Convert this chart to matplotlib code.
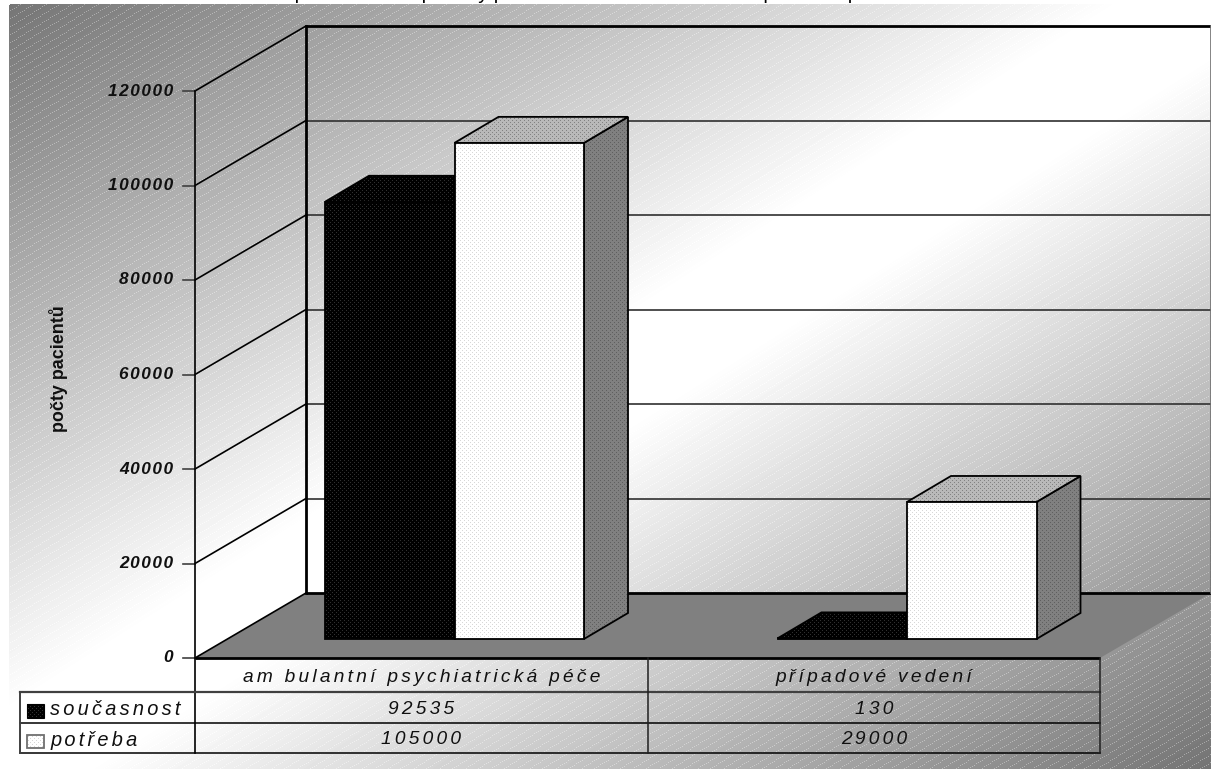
import numpy as np
import matplotlib
matplotlib.use('Agg')
import matplotlib.pyplot as plt
from matplotlib.patches import Polygon

plt.rcParams['font.family'] = ['Liberation Sans', 'DejaVu Sans']

# data
categories = ['am bulantní psychiatrická péče', 'případové vedení']
series_names = ['současnost', 'potřeba']
soucasnost = [92535, 130]
potreba = [105000, 29000]
y_ticks = [0, 20000, 40000, 60000, 80000, 100000, 120000]
y_label = 'počty pacientů'
# only the descenders of the title are left in the picture, the words are a guess
title = 'Současná péče a reálné potřeby pacientů s chronickou nemocí potřebná péče'

W, H = 1211, 769

# layout of the 3d box, in pixels
x_front, x_right = 195, 1100
y_zero, y_top = 658, 91
box_dx, box_dy = 111, -65
bar_dx, bar_dy = 44, -26
bar_w = 129.5
cat_w = (x_right - x_front) / 2
bar_offset = 130
bar_base = 639
table_left = 20
table_rows = [692, 723, 753]
scale = (y_zero - y_top) / y_ticks[-1]
HAIR = '\u200a'

face_z = [3.0]


def spaced(s, sep):
    return sep.join(s)


def background():
    yy, xx = np.mgrid[0:H, 0:W]
    u = np.abs(xx / W + yy / H - 1)
    g = 255 - 150 * np.clip(u - 0.07, 0, None)
    stripes = ((yy + (0.62 * xx).astype(int)) % 8 == 0) & (xx % 2 == 0)
    g = np.where(stripes, np.minimum(g + 48 * u, 255), g)
    g[:4, :] = 255
    g[:, :9] = 255
    g[(xx + yy) < 14] = 255
    return g


def dotted(ax, pts, base, dot, edge='black', lw=1.3):
    pts = np.array(pts)
    x0, y0 = np.floor(pts.min(axis=0)).astype(int)
    x1, y1 = np.ceil(pts.max(axis=0)).astype(int) + 1
    yy, xx = np.mgrid[y0:y1, x0:x1]
    mask = ((xx % 4 == 0) & (yy % 4 == 0)) | ((xx % 4 == 2) & (yy % 4 == 2))
    # each face sits on top of the one before, outline included
    face_z[0] += 0.01
    img = ax.imshow(np.where(mask, dot, base), cmap='gray', vmin=0, vmax=255,
                    extent=(x0, x1, y1, y0), interpolation='nearest', aspect='auto', zorder=face_z[0])
    face_z[0] += 0.01
    patch = Polygon(pts, closed=True, fill=False, edgecolor=edge, linewidth=lw, zorder=face_z[0],
                    joinstyle='miter')
    ax.add_patch(patch)
    img.set_clip_path(patch)


def draw_bar(ax, cat, ser, value, front, front_dot, top, top_dot, side, side_dot):
    x0 = x_front + cat * cat_w + bar_offset + ser * bar_w
    x1 = x0 + bar_w
    yb = bar_base
    yt = bar_base - value * scale
    dotted(ax, [(x1, yb), (x1 + bar_dx, yb + bar_dy), (x1 + bar_dx, yt + bar_dy), (x1, yt)], side, side_dot)
    dotted(ax, [(x0, yt), (x0 + bar_dx, yt + bar_dy), (x1 + bar_dx, yt + bar_dy), (x1, yt)], top, top_dot)
    dotted(ax, [(x0, yb), (x1, yb), (x1, yt), (x0, yt)], front, front_dot)


fig, ax = plt.subplots(figsize=(W / 100, H / 100), dpi=100)
fig.subplots_adjust(left=0, right=1, top=1, bottom=0)
ax.imshow(background(), cmap='gray', vmin=0, vmax=255, extent=(0, W, H, 0),
          interpolation='nearest', aspect='auto', zorder=0)
ax.set_xlim(0, W)
ax.set_ylim(H, 0)
ax.axis('off')

ax.text(546, -1, title, ha='center', va='baseline', fontsize=14.4, color='black', clip_on=False)

# floor
ax.add_patch(Polygon([(x_front, y_zero), (x_front + box_dx, y_zero + box_dy),
                      (x_right + box_dx, y_zero + box_dy), (x_right, y_zero)],
                     closed=True, facecolor='#808080', edgecolor='none', zorder=1))

# walls and gridlines
for v in y_ticks:
    y = y_zero - v * scale
    lw = 2 if v in (0, y_ticks[-1]) else 1.2
    c = 'black' if v in (0, y_ticks[-1]) else '#303030'
    ax.plot([x_front + box_dx, x_right + box_dx], [y + box_dy, y + box_dy], color=c, lw=lw, zorder=2,
            solid_capstyle='butt')
    ax.plot([x_front, x_front + box_dx], [y, y + box_dy], color='black', lw=1.2, zorder=2)
    ax.plot([x_front - 12, x_front], [y, y], color='#404040', lw=1.2, zorder=2)
    ax.text(x_front - 22, y, spaced(str(v), HAIR), ha='right', va='center', fontsize=12.4,
            fontstyle='italic', fontweight='bold', color='#101010', zorder=5)
ax.plot([x_front + box_dx] * 2, [y_top + box_dy, y_zero + box_dy], color='black', lw=2, zorder=2)
ax.plot([x_front] * 2, [y_top, table_rows[-1]], color='black', lw=1.2, zorder=2)
ax.plot([x_right + box_dx - 0.5] * 2, [y_top + box_dy, y_zero + box_dy], color='#707070', lw=1.2, zorder=2)
ax.plot([x_front, x_right], [y_zero, y_zero], color='black', lw=2, zorder=5, solid_capstyle='butt')

ax.text(58, 369, y_label, rotation=90, ha='center', va='center', fontsize=12.9, fontweight='bold',
        color='#101010', zorder=5)

# bars
for i in range(len(categories)):
    draw_bar(ax, i, 0, soucasnost[i], 0, 48, 0, 48, 0, 48)
    draw_bar(ax, i, 1, potreba[i], 255, 215, 185, 130, 128, 95)

# data table
ax.plot([table_left, x_right], [table_rows[0]] * 2, color='#404040', lw=1.6, zorder=5)
for y in table_rows[1:]:
    ax.plot([table_left, x_right], [y, y], color='black', lw=1.1, zorder=5)
ax.plot([table_left] * 2, [table_rows[0], table_rows[-1]], color='#404040', lw=1.4, zorder=5)
for x in (x_front + cat_w, x_right):
    ax.plot([x, x], [y_zero, table_rows[-1]], color='#202020', lw=1.1, zorder=5)

cell = dict(fontsize=13.8, fontstyle='italic', color='#101010', zorder=6, va='center')
sep = HAIR * 2
for i, cat in enumerate(categories):
    xc = x_front + (i + 0.5) * cat_w
    ax.text(xc, (y_zero + table_rows[0]) / 2 + 2, spaced(cat, sep), ha='center', **cell)
    ax.text(xc, (table_rows[0] + table_rows[1]) / 2 + 2, spaced(str(soucasnost[i]), sep), ha='center', **cell)
    ax.text(xc, (table_rows[1] + table_rows[2]) / 2 + 1, spaced(str(potreba[i]), sep), ha='center', **cell)
for i, name in enumerate(series_names):
    ax.text(50, (table_rows[i] + table_rows[i + 1]) / 2 + 2, spaced(name, sep), ha='left', fontsize=14.4,
            fontstyle='italic', color='#101010', zorder=6, va='center')

# legend keys
dotted(ax, [(27, 704), (44, 704), (44, 718), (27, 718)], 0, 48, lw=0.8)
dotted(ax, [(27, 735), (44, 735), (44, 748), (27, 748)], 255, 215, edge='#707070', lw=1.3)

fig.savefig('out.png', dpi=100)
